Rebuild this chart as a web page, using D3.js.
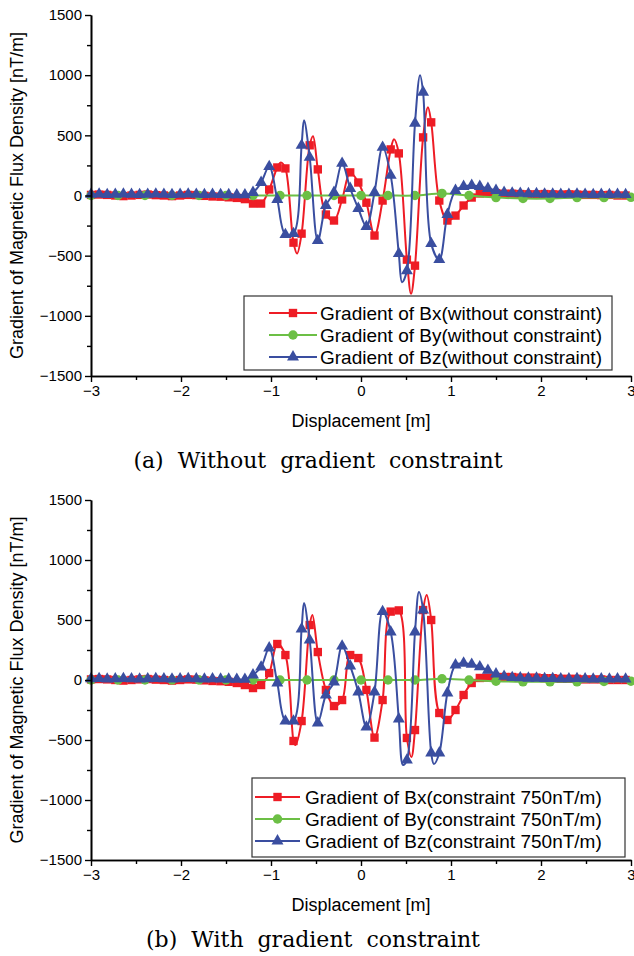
<!DOCTYPE html>
<html><head><meta charset="utf-8">
<script src="https://cdn.jsdelivr.net/npm/d3@7"></script>
<style>body{margin:0;background:#fff}svg{display:block}</style>
</head><body>
<svg id="chart" width="634" height="956"></svg>
<script>
// ---- data ----
const displacement = [-3.00,-2.91,-2.82,-2.73,-2.64,-2.55,-2.46,-2.37,-2.28,-2.19,-2.10,-2.01,-1.92,-1.83,-1.74,-1.65,-1.56,-1.47,-1.38,-1.29,-1.20,-1.11,-1.02,-0.93,-0.84,-0.75,-0.66,-0.57,-0.48,-0.39,-0.30,-0.21,-0.12,-0.03,0.06,0.15,0.24,0.33,0.42,0.51,0.60,0.69,0.78,0.87,0.96,1.05,1.14,1.23,1.32,1.41,1.50,1.59,1.68,1.77,1.86,1.95,2.04,2.13,2.22,2.31,2.40,2.49,2.58,2.67,2.76,2.85,2.94];
const displacementBy = [-3.0,-2.7,-2.4,-2.1,-1.8,-1.5,-1.2,-0.9,-0.6,-0.3,0.0,0.3,0.6,0.9,1.2,1.5,1.8,2.1,2.4,2.7,3.0];

// (a) without constraint
const bxFree = [5,8,5,0,-5,0,5,8,3,0,-5,0,5,3,-3,-8,-10,-15,-20,-30,-67,-67,50,233,225,-392,-317,417,217,-158,-208,-33,192,108,-60,-333,-42,383,350,-533,-583,483,608,-42,-208,-167,-83,-17,17,20,20,15,15,12,10,10,12,10,8,10,8,5,5,3,5,0,0];
const byFree = [0,0,0,0,0,0,0,0,0,0,0,0,0,17,0,-17,-25,-25,-17,-17,-15];
const bzFree = [10,12,8,10,12,10,8,10,12,10,8,10,12,10,8,10,8,6,5,5,25,108,240,-33,-325,-317,417,317,-375,-83,25,267,58,-108,-258,25,400,167,-483,-625,600,858,-400,-533,-158,42,75,83,75,58,42,25,20,18,15,15,12,12,10,10,12,10,8,10,8,10,8];
// apex vertices of the fitted line between symbols
const bxFreeApexX = [-0.89,-0.71,-0.533,0.367,0.556,0.744];
const bxFreeApexY = [275,-483,492,467,-817,733];
const bzFreeApexX = [-0.633,0.456,0.656];
const bzFreeApexY = [625,-720,1000];

// (b) with constraint 750 nT/m
const bxCon = [5,8,5,0,-5,0,5,8,3,0,-5,0,5,3,-3,-8,-10,-15,-25,-42,-67,-42,58,300,208,-508,-342,458,233,-83,-217,-167,208,183,-83,-480,-167,570,580,-483,-417,583,500,-275,-333,-250,-125,-25,17,20,25,25,25,20,20,20,15,15,10,10,10,5,5,5,0,0,0];
const byCon = [0,0,0,0,0,0,0,0,0,0,0,0,0,10,0,-10,-15,-15,-15,-12,-10];
const bzCon = [10,12,8,10,12,10,8,10,12,10,8,10,12,10,8,10,8,6,5,5,42,108,267,-25,-342,-342,425,333,-358,-125,-17,283,117,-100,-392,-100,570,400,-325,-667,400,583,-608,-608,-108,125,140,130,110,80,50,30,20,18,15,15,12,12,10,10,12,10,8,10,8,10,8];
const bxConApexX = [-0.73,-0.54,0.56,0.73];
const bxConApexY = [-542,542,-642,708];
const bzConApexX = [-0.633,0.467,0.644,0.81];
const bzConApexY = [642,-708,733,-700];

const yTicks = [-1500,-1000,-500,0,500,1000,1500];
const yMinor = [-1250,-750,-250,250,750,1250];
const xTicks = [-3,-2,-1,0,1,2,3];
const xMinor = [-2.5,-1.5,-0.5,0.5,1.5,2.5];

const legendA = ["Gradient of Bx(without constraint)","Gradient of By(without constraint)","Gradient of Bz(without constraint)"];
const legendB = ["Gradient of Bx(constraint 750nT/m)","Gradient of By(constraint 750nT/m)","Gradient of Bz(constraint 750nT/m)"];
const captions = ["(a) Without gradient constraint","(b) With gradient constraint"];

// ---- drawing ----
const COLORS = {bx:"#ee1c25", by:"#6cbf45", bz:"#3a4ea0"};
const SANS = "'Liberation Sans', Arial, sans-serif";
const svg = d3.select("#chart");

function merge(xs, ys, ax, ay){
  const pts = xs.map((x,i)=>[x,ys[i]]);
  (ax||[]).forEach((x,i)=>pts.push([x,ay[i]]));
  return pts.sort((a,b)=>a[0]-b[0]);
}

function panel(cfg){
  const g = svg.append("g");
  const x = d3.scaleLinear().domain([-3,3]).range([91,631]);
  const y = d3.scaleLinear().domain([-1500,1500]).range([cfg.bottom,cfg.top]);

  const series = [
    {key:"bx", xs:displacement, ys:cfg.bx, ax:cfg.bxAX, ay:cfg.bxAY, sym:d3.symbolSquare, size:70},
    {key:"by", xs:displacementBy, ys:cfg.by, ax:null, ay:null, sym:d3.symbolCircle, size:70},
    {key:"bz", xs:displacement, ys:cfg.bz, ax:cfg.bzAX, ay:cfg.bzAY, sym:d3.symbolTriangle, size:62}
  ];
  const line = d3.line().x(d=>x(d[0])).y(d=>y(d[1])).curve(d3.curveCatmullRom.alpha(0.5));
  series.forEach(s=>{
    const sg = g.append("g");
    sg.append("path").attr("d", line(merge(s.xs,s.ys,s.ax,s.ay)))
      .attr("fill","none").attr("stroke",COLORS[s.key]).attr("stroke-width",2);
    sg.selectAll("path.m").data(s.xs.map((v,i)=>[v,s.ys[i]])).enter().append("path")
      .attr("class","m").attr("d", d3.symbol().type(s.sym).size(s.size)())
      .attr("transform",d=>`translate(${x(d[0])},${y(d[1])})`)
      .attr("fill",COLORS[s.key]);
  });

  // axes
  g.append("g").attr("transform",`translate(0,${cfg.bottom})`)
    .call(d3.axisBottom(x).tickValues(xTicks).tickSize(6).tickSizeOuter(0).tickPadding(3).tickFormat(d3.format("d")));
  g.append("g").attr("transform",`translate(0,${cfg.bottom})`)
    .call(d3.axisBottom(x).tickValues(xMinor).tickSize(4).tickSizeOuter(0).tickFormat(""));
  g.append("g").attr("transform",`translate(91,0)`)
    .call(d3.axisLeft(y).tickValues(yTicks).tickSize(6).tickSizeOuter(0).tickPadding(3).tickFormat(d3.format("d")));
  g.append("g").attr("transform",`translate(91,0)`)
    .call(d3.axisLeft(y).tickValues(yMinor).tickSize(4).tickSizeOuter(0).tickFormat(""));
  g.selectAll(".domain").attr("stroke","#000").attr("stroke-width",1.6);
  g.selectAll(".tick line").attr("stroke","#000").attr("stroke-width",1.4);
  g.selectAll(".tick text").attr("font-family",SANS).attr("font-size",15).attr("fill","#000");

  g.append("text").attr("x",361).attr("y",cfg.bottom+51).attr("text-anchor","middle")
    .attr("font-family",SANS).attr("font-size",18).text("Displacement [m]");
  g.append("text").attr("transform",`translate(23,${(cfg.top+cfg.bottom)/2}) rotate(-90)`)
    .attr("text-anchor","middle").attr("font-family",SANS).attr("font-size",18)
    .text("Gradient of Magnetic Flux Density [nT/m]");

  // legend
  const L = cfg.legend;
  const lg = g.append("g");
  lg.append("rect").attr("x",L.x).attr("y",L.y).attr("width",L.w).attr("height",L.h)
    .attr("fill","#fff").attr("stroke","#333").attr("stroke-width",1.2);
  series.forEach((s,i)=>{
    const ry = L.y + L.row0 + i*L.dy;
    lg.append("line").attr("x1",L.lx0).attr("x2",L.lx1).attr("y1",ry).attr("y2",ry)
      .attr("stroke",COLORS[s.key]).attr("stroke-width",2);
    lg.append("path").attr("d", d3.symbol().type(s.sym).size(s.size)())
      .attr("transform",`translate(${(L.lx0+L.lx1)/2},${ry})`).attr("fill",COLORS[s.key]);
    lg.append("text").attr("x",L.tx).attr("y",ry+6.5).attr("font-family",SANS)
      .attr("font-size",19).text(cfg.labels[i]);
  });

  svg.append("text").attr("x",cfg.capX).attr("y",cfg.capY).attr("text-anchor","middle")
    .attr("font-family","'DejaVu Serif',serif").attr("font-size",22)
    .attr("word-spacing",7)
    .text(cfg.caption);
}

panel({top:15,bottom:376,bx:bxFree,by:byFree,bz:bzFree,bxAX:bxFreeApexX,bxAY:bxFreeApexY,bzAX:bzFreeApexX,bzAY:bzFreeApexY,
  labels:legendA,caption:captions[0],capX:318,capY:468,
  legend:{x:244,y:296,w:368,h:74,row0:17,dy:22,lx0:269,lx1:317,tx:320}});
panel({top:500,bottom:860,bx:bxCon,by:byCon,bz:bzCon,bxAX:bxConApexX,bxAY:bxConApexY,bzAX:bzConApexX,bzAY:bzConApexY,
  labels:legendB,caption:captions[1],capX:313,capY:947,
  legend:{x:252,y:778,w:373,h:79,row0:19,dy:22,lx0:255,lx1:300,tx:305}});
</script>
</body></html>
